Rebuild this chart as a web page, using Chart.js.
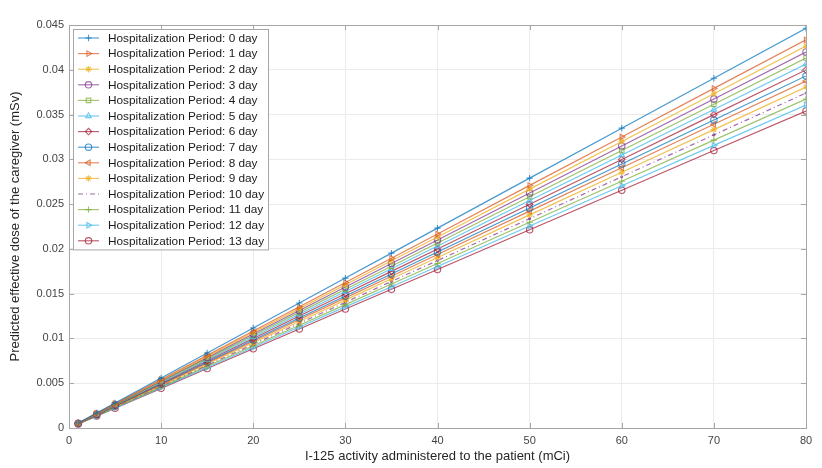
<!DOCTYPE html>
<html>
<head>
<meta charset="utf-8">
<script src="https://cdn.jsdelivr.net/npm/chart.js@4.4.1/dist/chart.umd.min.js"></script>
<style>
  html, body { margin: 0; padding: 0; background: #fff; }
  #wrap { width: 822px; height: 468px; }
</style>
</head>
<body>
<div id="wrap"><canvas id="myChart" width="822" height="468"></canvas></div>
<script>
// activity (mCi) on the x axis
const activity = [1, 3, 5, 10, 15, 20, 25, 30, 35, 40, 50, 60, 70, 80];
const periods = ['0 day', '1 day', '2 day', '3 day', '4 day', '5 day', '6 day',
  '7 day', '8 day', '9 day', '10 day', '11 day', '12 day', '13 day'];
const yTicks = [0, 0.005, 0.01, 0.015, 0.02, 0.025, 0.03, 0.035, 0.04, 0.045];

// predicted effective dose (mSv), one array per hospitalization period
const dose0 = [0.00056, 0.00167, 0.00279, 0.00558, 0.00837, 0.01116, 0.01395, 0.01674, 0.01953, 0.02232, 0.0279, 0.03348, 0.03906, 0.04464];
const dose1 = [0.00054, 0.00163, 0.00271, 0.00542, 0.00813, 0.01083, 0.01354, 0.01625, 0.01896, 0.02167, 0.02709, 0.0325, 0.03792, 0.04334];
const dose2 = [0.00053, 0.0016, 0.00267, 0.00533, 0.008, 0.01067, 0.01333, 0.016, 0.01867, 0.02133, 0.02667, 0.032, 0.03733, 0.04266];
const dose3 = [0.00052, 0.00157, 0.00262, 0.00525, 0.00787, 0.0105, 0.01312, 0.01575, 0.01837, 0.021, 0.02625, 0.03149, 0.03674, 0.04199];
const dose4 = [0.00052, 0.00155, 0.00258, 0.00516, 0.00775, 0.01033, 0.01291, 0.01549, 0.01807, 0.02066, 0.02582, 0.03098, 0.03615, 0.04131];
const dose5 = [0.00051, 0.00152, 0.00254, 0.00508, 0.00762, 0.01016, 0.0127, 0.01524, 0.01778, 0.02032, 0.0254, 0.03048, 0.03556, 0.04064];
const dose6 = [0.0005, 0.0015, 0.0025, 0.005, 0.0075, 0.01, 0.0125, 0.01499, 0.01749, 0.01999, 0.02499, 0.02999, 0.03499, 0.03998];
const dose7 = [0.00049, 0.00147, 0.00246, 0.00491, 0.00737, 0.00983, 0.01229, 0.01474, 0.0172, 0.01966, 0.02457, 0.02948, 0.0344, 0.03931];
const dose8 = [0.00048, 0.00145, 0.00242, 0.00484, 0.00727, 0.00969, 0.01211, 0.01453, 0.01695, 0.01938, 0.02422, 0.02906, 0.03391, 0.03875];
const dose9 = [0.00048, 0.00143, 0.00238, 0.00476, 0.00714, 0.00952, 0.0119, 0.01428, 0.01666, 0.01904, 0.0238, 0.02856, 0.03332, 0.03808];
const dose10 = [0.00047, 0.0014, 0.00234, 0.00468, 0.00701, 0.00935, 0.01169, 0.01403, 0.01637, 0.0187, 0.02338, 0.02806, 0.03273, 0.03741];
const dose11 = [0.00046, 0.00138, 0.0023, 0.00459, 0.00689, 0.00919, 0.01148, 0.01378, 0.01608, 0.01837, 0.02297, 0.02756, 0.03215, 0.03674];
const dose12 = [0.00045, 0.00135, 0.00225, 0.00451, 0.00676, 0.00902, 0.01127, 0.01353, 0.01578, 0.01804, 0.02255, 0.02705, 0.03156, 0.03607];
const dose13 = [0.00044, 0.00133, 0.00221, 0.00443, 0.00664, 0.00885, 0.01106, 0.01328, 0.01549, 0.0177, 0.02213, 0.02655, 0.03098, 0.0354];
const doseSeries = [dose0, dose1, dose2, dose3, dose4, dose5, dose6, dose7, dose8, dose9, dose10, dose11, dose12, dose13];

// matlab-ish colour order, a bit faded
const colors = [
  'rgba(0,114,189,0.72)', 'rgba(217,83,25,0.72)', 'rgba(237,177,32,0.78)', 'rgba(126,47,142,0.72)',
  'rgba(119,172,48,0.72)', 'rgba(77,190,238,0.82)', 'rgba(162,20,47,0.72)',
  'rgba(0,114,189,0.72)', 'rgba(217,83,25,0.72)', 'rgba(237,177,32,0.78)', 'rgba(126,47,142,0.72)',
  'rgba(119,172,48,0.72)', 'rgba(77,190,238,0.82)', 'rgba(162,20,47,0.72)'
];
const markers = ['cross', 'triangle', 'star', 'circle', 'rect', 'triangle', 'rectRot',
  'circle', 'triangle', 'star', 'circle', 'cross', 'triangle', 'circle'];
const markerRot = [0, 90, 0, 0, 0, 0, 0, 0, -90, 0, 0, 0, 90, 0];

const datasets = doseSeries.map((d, i) => ({
  label: 'Hospitalization Period: ' + periods[i],
  data: activity.map((a, j) => ({ x: a, y: d[j] })),
  borderColor: colors[i],
  backgroundColor: 'rgba(0,0,0,0)',
  borderWidth: 1.2,
  borderDash: i === 10 ? [5, 3, 1, 3] : [],
  pointStyle: markers[i],
  pointRotation: markerRot[i],
  pointRadius: i === 10 ? 1 : 3.2,
  pointBorderWidth: 1.1,
  pointBorderColor: colors[i],
  pointBackgroundColor: 'rgba(0,0,0,0)',
  tension: 0
}));

// box around the axes, inward ticks and the legend panel
const frame = {
  id: 'frame',
  afterDraw(chart) {
    const { ctx, chartArea: a, scales } = chart;
    ctx.save();
    ctx.strokeStyle = '#a6a6a6';
    ctx.lineWidth = 1;
    ctx.strokeRect(a.left + 0.5, a.top + 0.5, a.right - a.left, a.bottom - a.top);
    ctx.beginPath();
    scales.x.ticks.forEach(t => {
      const px = Math.round(scales.x.getPixelForValue(t.value)) + 0.5;
      ctx.moveTo(px, a.bottom); ctx.lineTo(px, a.bottom - 5);
      ctx.moveTo(px, a.top); ctx.lineTo(px, a.top + 5);
    });
    scales.y.ticks.forEach(t => {
      const py = Math.round(scales.y.getPixelForValue(t.value)) + 0.5;
      ctx.moveTo(a.left, py); ctx.lineTo(a.left + 5, py);
      ctx.moveTo(a.right, py); ctx.lineTo(a.right - 5, py);
    });
    ctx.stroke();

    // legend
    const lx = 73, ly = 29, lw = 195, rowH = 15.6;
    const lh = rowH * chart.data.datasets.length + 2;
    ctx.fillStyle = '#fff';
    ctx.fillRect(lx, ly, lw, lh);
    ctx.strokeStyle = '#a6a6a6';
    ctx.strokeRect(lx + 0.5, ly + 0.5, lw, lh);
    ctx.font = '11.8px "Liberation Sans", Arial, sans-serif';
    ctx.textBaseline = 'middle';
    const drawPoint = Chart.helpers && Chart.helpers.drawPoint;
    chart.data.datasets.forEach((ds, i) => {
      const cy = ly + 9 + i * rowH;
      ctx.strokeStyle = ds.borderColor;
      ctx.lineWidth = 1.1;
      ctx.setLineDash(ds.borderDash);
      ctx.beginPath();
      ctx.moveTo(78, cy); ctx.lineTo(99, cy);
      ctx.stroke();
      ctx.setLineDash([]);
      if (drawPoint && ds.pointRadius > 1) {
        ctx.fillStyle = 'rgba(0,0,0,0)';
        drawPoint(ctx, { pointStyle: ds.pointStyle, radius: 3.2, rotation: ds.pointRotation, borderWidth: 1.1 }, 88.5, cy);
      }
      ctx.fillStyle = '#1a1a1a';
      ctx.fillText(ds.label, 108, cy + 0.5);
    });
    ctx.restore();
  }
};

const tickFont = { family: '"Liberation Sans", Arial, sans-serif', size: 11 };
const gridStyle = { color: '#ebebeb', drawTicks: false };

let myChart = new Chart(document.getElementById('myChart'), {
  type: 'line',
  data: { datasets: datasets },
  options: {
    responsive: false,
    animation: false,
    devicePixelRatio: 1,
    layout: { padding: { top: 25, right: 16, left: 0, bottom: 0 } },
    plugins: { legend: { display: false }, tooltip: { enabled: false } },
    scales: {
      x: {
        type: 'linear',
        min: 0, max: 80,
        grid: gridStyle,
        border: { display: false },
        ticks: { stepSize: 10, color: '#444', font: tickFont, padding: 6, maxRotation: 0 },
        title: {
          display: true,
          text: 'I-125 activity administered to the patient (mCi)',
          color: '#262626',
          font: { family: '"Liberation Sans", Arial, sans-serif', size: 13 },
          padding: { top: 0, bottom: 4 }
        },
        afterFit(s) { s.height = 40; }
      },
      y: {
        type: 'linear',
        min: 0, max: 0.045,
        grid: gridStyle,
        border: { display: false },
        afterBuildTicks(s) { s.ticks = yTicks.map(v => ({ value: v })); },
        ticks: {
          color: '#444', font: tickFont, padding: 5,
          callback: v => String(Number(v.toFixed(3)))
        },
        title: {
          display: true,
          text: 'Predicted effective dose of the caregiver (mSv)',
          color: '#262626',
          font: { family: '"Liberation Sans", Arial, sans-serif', size: 13 },
          padding: { top: 8, bottom: 0 }
        },
        afterFit(s) { s.width = 69; }
      }
    }
  },
  plugins: [frame]
});
</script>
</body>
</html>
